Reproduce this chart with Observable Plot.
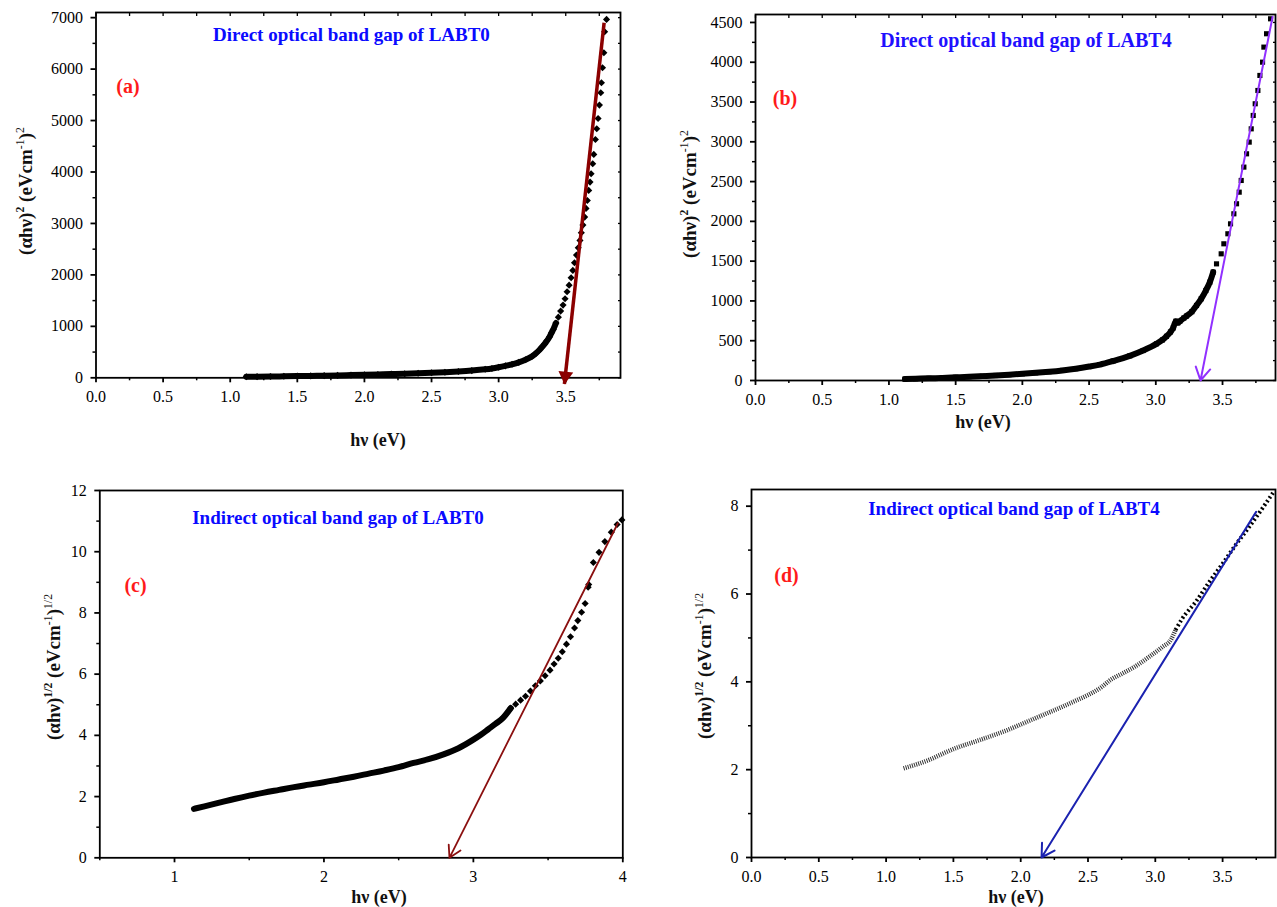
<!DOCTYPE html>
<html>
<head>
<meta charset="utf-8">
<script src="https://cdn.jsdelivr.net/npm/d3@7"></script>
<script src="https://cdn.jsdelivr.net/npm/@observablehq/plot@0.6"></script>
<style>
  html, body { margin: 0; padding: 0; background: #fff; }
  #wrap { position: relative; width: 1277px; height: 907px; overflow: hidden; font-family: "Liberation Serif", "Times New Roman", serif; }
  .lab { position: absolute; white-space: nowrap; line-height: 1; transform: translate(-50%, -50%); }
  .rot { transform: translate(-50%, -50%) rotate(-90deg); }
  .lab sup { font-size: 0.62em; vertical-align: 0.6em; line-height: 0; }
  .lab sup.n { font-weight: normal; }
</style>
</head>
<body>
<div id="wrap"></div>
<script>
// ---------------- data ----------------
// (a) direct gap LABT0: (αhν)^2 vs hν
const aX = [1.12,1.2,1.3,1.4,1.5,1.6,1.7,1.8,1.9,2.0,2.1,2.2,2.3,2.4,2.5,2.6,2.7,2.8,2.9,2.95,3.0,3.05,3.1,3.15,3.2,3.25,3.28,3.3,3.32,3.34,3.36,3.38,3.395,
  3.407,3.427,3.445,3.462,3.48,3.495,3.51,3.525,3.54,3.553,3.565,3.58,3.593,3.606,3.616,3.628,3.641,3.651,3.661,3.671,3.681,3.689,3.701,3.709,3.721,3.731,3.741,3.751,3.761,3.766,3.774,3.784,3.79,3.804];
const aY = [20,22,25,29,33,37,42,47,53,59,65,72,80,88,97,108,122,140,165,182,205,232,262,300,350,420,480,530,590,650,720,800,880,
  940,1063,1179,1296,1413,1536,1672,1801,1944,2087,2236,2385,2527,2670,2819,2968,3123,3292,3447,3642,3804,3966,4160,4342,4633,4840,5041,5300,5540,5735,6026,6318,6726,6966];
const aFitX = [3.786, 3.49];
const aFitY = [6900, -120];

// (b) direct gap LABT4
const bX = [1.12,1.2,1.3,1.4,1.5,1.6,1.7,1.8,1.9,2.0,2.1,2.2,2.3,2.4,2.5,2.58,2.68,2.805,2.905,3.005,3.05,3.08,3.11,3.13,3.15,3.165,3.18,3.21,3.23,3.27,3.305,3.34,3.375,3.405,3.43,3.455,3.49,3.51,3.54,3.56,3.585,3.605,3.625,3.64,3.66,3.68,3.70,3.715,3.73,3.745,3.765,3.78,3.80,3.81,3.83,3.86];
const bY = [18,22,27,33,40,47,55,63,73,84,96,110,127,148,175,200,245,310,377,461,510,555,610,660,745,725,745,785,810,865,943,1027,1131,1236,1362,1466,1592,1718,1844,1969,2095,2221,2367,2514,2682,2849,2996,3163,3331,3478,3645,3834,4001,4190,4358,4546];
const bFitX = [3.875, 3.335];
const bFitY = [4570, 0];

// (c) indirect gap LABT0: (αhν)^1/2
const cX = [1.13,1.2,1.3,1.4,1.5,1.6,1.7,1.8,1.9,2.0,2.1,2.2,2.3,2.4,2.5,2.6,2.7,2.8,2.9,3.0,3.05,3.1,3.15,3.2,
  3.25,3.283,3.316,3.349,3.382,3.415,3.448,3.48,3.513,3.54,3.568,3.595,3.623,3.65,3.677,3.699,3.724,3.748,3.768,3.772,3.803,3.841,3.88,3.923,3.962,3.994];
const cY = [1.60,1.68,1.80,1.92,2.03,2.13,2.22,2.31,2.39,2.47,2.56,2.65,2.75,2.85,2.96,3.10,3.22,3.38,3.58,3.86,4.02,4.20,4.38,4.58,
  4.89,5.02,5.15,5.28,5.45,5.62,5.78,5.95,6.13,6.33,6.52,6.73,6.98,7.22,7.51,7.75,8.02,8.31,8.84,8.93,9.65,9.98,10.33,10.64,10.89,11.04];
const cFitX = [3.967, 2.84];
const cFitY = [10.93, 0];

// (d) indirect gap LABT4
const dX = [1.13,1.3,1.5,1.7,1.9,2.0,2.1,2.2,2.3,2.4,2.5,2.6,2.67,2.75,2.85,2.95,3.05,3.12,3.15,3.2,3.3,3.4,3.5,3.6,3.7,3.8,3.88];
const dY = [2.03,2.20,2.47,2.68,2.90,3.03,3.16,3.29,3.42,3.56,3.70,3.88,4.05,4.18,4.35,4.56,4.79,4.98,5.18,5.44,5.82,6.27,6.69,7.13,7.54,7.97,8.33];
const dFitX = [3.749, 2.155];
const dFitY = [7.87, 0];

// tick values
const tickX05 = [0, 0.5, 1.0, 1.5, 2.0, 2.5, 3.0, 3.5];
const tickX05m = [0.25, 0.75, 1.25, 1.75, 2.25, 2.75, 3.25, 3.75];
const aYt = [0, 1000, 2000, 3000, 4000, 5000, 6000, 7000];
const aYm = [500, 1500, 2500, 3500, 4500, 5500, 6500];
const bYt = [0, 500, 1000, 1500, 2000, 2500, 3000, 3500, 4000, 4500];
const bYm = [250, 750, 1250, 1750, 2250, 2750, 3250, 3750, 4250];
const cXt = [1, 2, 3, 4];
const cXm = [0.5, 1.5, 2.5, 3.5];
const cYt = [0, 2, 4, 6, 8, 10, 12];
const cYm = [1, 3, 5, 7, 9, 11];
const dYt = [0, 2, 4, 6, 8];
const dYm = [1, 3, 5, 7];

// ---------------- helpers ----------------
const wrap = document.getElementById("wrap");
const pts = (xs, ys) => xs.map((x, i) => ({x, y: ys[i]}));
const fit = (xs, ys) => [{x1: xs[0], y1: ys[0], x2: xs[1], y2: ys[1]}];
const f1 = d3.format(".1f");
const blank = () => "";

function panel(o) {
  const axes = [
    Plot.frame({stroke: "black", strokeWidth: 1.8}),
    Plot.axisX({ticks: o.xt, tickSize: 5, tickPadding: 8, tickFormat: o.xf, strokeWidth: 1.8, label: null}),
    Plot.axisX({ticks: o.xm, tickSize: 3, tickPadding: 8, tickFormat: blank, strokeWidth: 1.5, label: null}),
    Plot.axisY({ticks: o.yt, tickSize: 5, tickPadding: 8, tickFormat: d3.format("d"), strokeWidth: 1.8, label: null}),
    Plot.axisY({ticks: o.ym, tickSize: 3, tickPadding: 8, tickFormat: blank, strokeWidth: 1.5, label: null})
  ];
  if (o.mirror) {
    axes.push(
      Plot.axisX({anchor: "top", ticks: o.xt.concat(o.xm), tickSize: 3, dy: 3, tickFormat: blank, strokeWidth: 1.3, label: null}),
      Plot.axisY({anchor: "right", ticks: o.yt.concat(o.ym), tickSize: 3, dx: -3, tickFormat: blank, strokeWidth: 1.3, label: null})
    );
  }
  const svg = Plot.plot({
    width: o.width, height: o.height,
    marginLeft: o.ml, marginRight: o.mr, marginTop: o.mt, marginBottom: o.mb,
    x: {domain: o.xd}, y: {domain: o.yd},
    style: {fontFamily: "'Liberation Serif', 'Times New Roman', serif", fontSize: "16px", color: "black", background: "transparent", overflow: "visible"},
    marks: axes.concat(o.marks)
  });
  svg.style.position = "absolute";
  svg.style.left = o.left + "px";
  svg.style.top = o.top + "px";
  wrap.appendChild(svg);
}

function label(html, x, y, css, rotate) {
  const d = document.createElement("div");
  d.className = "lab" + (rotate ? " rot" : "");
  d.innerHTML = html;
  d.style.left = x + "px";
  d.style.top = y + "px";
  Object.assign(d.style, css);
  wrap.appendChild(d);
}

// ---------------- (a) ----------------
const aData = pts(aX, aY);
panel({
  left: 0, top: 0, width: 640, height: 455, ml: 95.5, mr: 20, mt: 12, mb: 77.7,
  xd: [0, 3.908], yd: [0, 7100], xt: tickX05, xm: tickX05m, yt: aYt, ym: aYm, xf: f1, mirror: true,
  marks: [
    Plot.line(aData, {x: "x", y: "y", filter: d => d.x <= 3.43, stroke: "black", strokeWidth: 6, curve: "monotone-x"}),
    Plot.dot(aData, {x: "x", y: "y", symbol: "diamond2", r: 3.2, fill: "black", stroke: "none"}),
    Plot.link(fit(aFitX, aFitY), {x1: "x1", y1: "y1", x2: "x2", y2: "y2", stroke: "#8b0000", strokeWidth: 3.5}),
    Plot.dot(fit(aFitX, aFitY), {x: "x2", y: "y2", symbol: "triangle", r: 5.5, rotate: 186, fill: "#8b0000", dy: -8, dx: 1})
  ]
});

// ---------------- (b) ----------------
const bData = pts(bX, bY);
panel({
  left: 640, top: 0, width: 637, height: 455, ml: 115, mr: 2, mt: 14, mb: 75,
  xd: [0, 3.897], yd: [0, 4600], xt: tickX05, xm: tickX05m, yt: bYt, ym: bYm, xf: f1, mirror: true,
  marks: [
    Plot.line(bData, {x: "x", y: "y", filter: d => d.x <= 3.43, stroke: "black", strokeWidth: 6, curve: "monotone-x"}),
    Plot.dot(bData, {x: "x", y: "y", symbol: "square", r: 2.9, fill: "black", stroke: "none"}),
    Plot.arrow(fit(bFitX, bFitY), {x1: "x1", y1: "y1", x2: "x2", y2: "y2", stroke: "#9130ff", strokeWidth: 2, headLength: 11})
  ]
});

// ---------------- (c) ----------------
const cData = pts(cX, cY);
panel({
  left: 0, top: 470, width: 640, height: 437, ml: 99.3, mr: 17.7, mt: 20, mb: 49.7,
  xd: [0.5, 4], yd: [0, 12], xt: cXt, xm: cXm, yt: cYt, ym: cYm, xf: d3.format("d"), mirror: false,
  marks: [
    Plot.line(cData, {x: "x", y: "y", filter: d => d.x <= 3.26, stroke: "black", strokeWidth: 6, curve: "monotone-x"}),
    Plot.dot(cData, {x: "x", y: "y", filter: d => d.x >= 3.2, symbol: "diamond2", r: 3.2, fill: "black", stroke: "none"}),
    Plot.arrow(fit(cFitX, cFitY), {x1: "x1", y1: "y1", x2: "x2", y2: "y2", stroke: "#8b1010", strokeWidth: 1.8, headLength: 11})
  ]
});

// ---------------- (d) ----------------
const dData = pts(dX, dY);
panel({
  left: 640, top: 470, width: 637, height: 437, ml: 111, mr: 2, mt: 19, mb: 50,
  xd: [0, 3.893], yd: [0, 8.38], xt: tickX05, xm: tickX05m, yt: dYt, ym: dYm, xf: f1, mirror: false,
  marks: [
    Plot.line(dData, {x: "x", y: "y", filter: d => d.x <= 3.15, stroke: "#333", strokeWidth: 4.5, strokeDasharray: "1,1.2", strokeLinecap: "butt", strokeLinejoin: "miter", curve: "monotone-x"}),
    Plot.line(dData, {x: "x", y: "y", filter: d => d.x >= 3.15, stroke: "black", strokeWidth: 4, strokeDasharray: "2,2.5", strokeLinecap: "butt", strokeLinejoin: "miter", curve: "monotone-x"}),
    Plot.arrow(fit(dFitX, dFitY), {x1: "x1", y1: "y1", x2: "x2", y2: "y2", stroke: "#1b22b0", strokeWidth: 2, headLength: 11})
  ]
});

// ---------------- text ----------------
const tCss = {fontWeight: "bold", fontSize: "19px", color: "#0a0aff"};
const pCss = {fontWeight: "bold", fontSize: "20px", color: "#ff1a1a"};
const axCss = {fontWeight: "bold", fontSize: "18px", color: "#111"};
const yCss = {fontWeight: "bold", fontSize: "19px", color: "#111"};

label("Direct optical band gap of LABT0", 351.5, 33.5, tCss);
label("Direct optical band gap of LABT4", 1026, 39.5, Object.assign({}, tCss, {fontSize: "20px", color: "#1f10ff"}));
label("Indirect optical band gap of LABT0", 338, 517, tCss);
label("Indirect optical band gap of LABT4", 1014, 507.5, tCss);

label("(a)", 128, 86, pCss);
label("(b)", 785, 98, pCss);
label("(c)", 135.5, 585, pCss);
label("(d)", 786.5, 575, pCss);

const yDirect = '(&alpha;h&nu;)<sup>2</sup> (eVcm<sup class="n">-1</sup>)<sup class="n">2</sup>';
const yIndirect = '(&alpha;h&nu;)<sup>1/2</sup> (eVcm<sup class="n">-1</sup>)<sup class="n">1/2</sup>';
label(yDirect, 25, 191, yCss, true);
label(yDirect, 689, 194, yCss, true);
label(yIndirect, 53, 667, yCss, true);
label(yIndirect, 704, 666, yCss, true);

label("h&nu; (eV)", 378, 440, axCss);
label("h&nu; (eV)", 983, 421.5, axCss);
label("h&nu; (eV)", 379, 896.5, axCss);
label("h&nu; (eV)", 1016, 896.5, axCss);
</script>
</body>
</html>
